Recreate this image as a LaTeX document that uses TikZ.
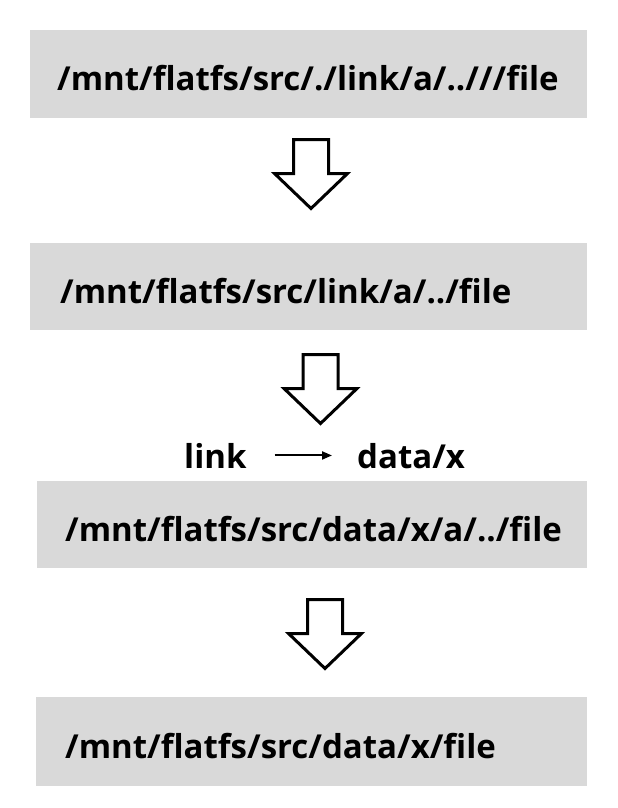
\documentclass[tikz,border=0pt]{standalone}
\usepackage{fontspec}
\setmainfont{Open Sans}
\usetikzlibrary{arrows.meta}
\definecolor{boxgray}{HTML}{D9D9D9}
\tikzset{
  pathbox/.style={fill=boxgray, minimum width=557pt, minimum height=88pt, inner sep=0pt},
  pathtext/.style={font=\bfseries\fontsize{33}{40}\selectfont, anchor=base west, inner sep=0pt},
  hollowarrow/.pic={\draw[line width=3pt, miter limit=10, fill=white] (-17.5,0) -- (17.5,0) -- (17.5,34) -- (36.5,34) -- (0,69) -- (-36.5,34) -- (-17.5,34) -- cycle;}
}

\begin{document}
\begin{tikzpicture}[x=1pt, y=-1pt]
  \useasboundingbox[fill=white] (0,0) rectangle (618,808);
  % path boxes
  \node[pathbox] (box1) at (308.5,74) {};
  \node[pathbox, minimum height=87pt] (box2) at (308.5,286.5) {};
  \node[pathbox, minimum width=550pt, minimum height=87pt] (box3) at (312,524.5) {};
  \node[pathbox, minimum width=551pt, minimum height=89pt] (box4) at (311.5,741.5) {};
  \node[pathtext] (path1) at (57,90) {/mnt/flatfs/src/./link/a/..///file};
  \node[pathtext] (path2) at (60,303) {/mnt/flatfs/src/link/a/../file};
  \node[pathtext] (path3) at (65,541) {/mnt/flatfs/src/data/x/a/../file};
  \node[pathtext] (path4) at (65,758) {/mnt/flatfs/src/data/x/file};
  % steps
  \pic at (311,139.5) {hollowarrow};
  \pic at (320.5,354.5) {hollowarrow};
  \pic at (325,599.5) {hollowarrow};
  % symlink
  \node[pathtext] (lnk) at (184,468) {link};
  \node[pathtext] (tgt) at (357,468) {data/x};
  \draw[line width=2pt, -{Triangle[length=10pt, width=8pt]}, shorten <=28pt, shorten >=25pt]
    (lnk.east) -- (lnk.east -| tgt.west);
\end{tikzpicture}
\end{document}
